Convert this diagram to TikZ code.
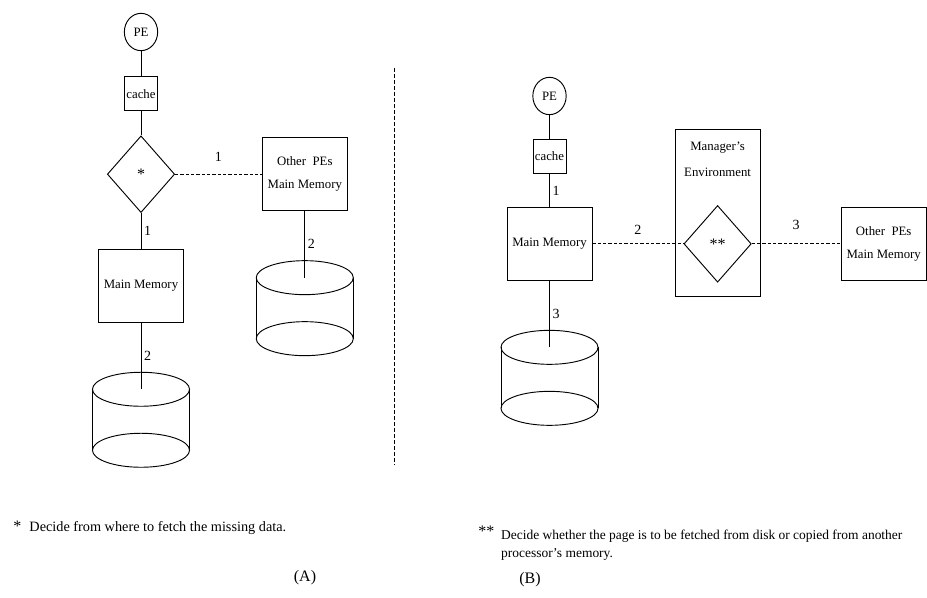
\documentclass[tikz,border=0pt]{standalone}
\usepackage{fontspec}
\setmainfont{Liberation Serif}
\usetikzlibrary{shapes.geometric, positioning}

\begin{document}
\begin{tikzpicture}[
  x=0.75pt, y=-0.75pt, line width=0.7pt,
  every node/.style={font=\fontsize{9.6}{11}\selectfont},
  pe/.style={ellipse, draw, inner sep=0pt, minimum width=25pt, minimum height=28pt},
  cachebox/.style={rectangle, draw, inner sep=0pt, minimum width=24.75pt,
                   minimum height=25.5pt},
  memory/.style={rectangle, draw, align=center, minimum width=63.75pt,
                 minimum height=54.5pt},
  choice/.style={diamond, draw, inner sep=0pt, minimum width=50.5pt,
                 minimum height=57.5pt, font=\fontsize{12}{12}\selectfont},
  link/.style={dash pattern=on 2.5pt off 1.5pt},
  num/.style={font=\fontsize{10.5}{12}\selectfont, inner sep=2pt},
  note/.style={font=\fontsize{10.7}{13}\selectfont, anchor=base west, inner sep=0pt},
  disk/.pic={
    \draw (0pt,0pt) ellipse [x radius=36.4pt, y radius=12.75pt];
    \draw (0pt,-45.75pt) ellipse [x radius=36.4pt, y radius=12.75pt];
    \draw (-36.4pt,0pt) -- (-36.4pt,-45.75pt) (36.4pt,0pt) -- (36.4pt,-45.75pt);
    \coordinate (-top) at (0pt,0pt);
  }
]
\useasboundingbox (0,0) rectangle (927,598);

% (A): the PE decides where the data comes from
\node[pe] (peA) at (141,32) {PE};
\node[cachebox, below=19pt of peA] (cacheA) {cache};
\node[choice, below=18pt of cacheA] (choiceA) {*};
\node[memory, below=27pt of choiceA] (memA) {Main Memory};
\node[memory, right=65pt of choiceA] (otherA) {Other\ \ PEs\\[6pt]Main Memory};
\pic (diskA) at ([yshift=-50pt]memA.south) {disk};
\pic (diskO) at ([yshift=-50pt]otherA.south) {disk};

\draw (peA) -- (cacheA);
\draw (cacheA) -- (choiceA);
\draw (choiceA) -- node[num, right] {1} (memA);
\draw[link] (choiceA) -- node[num, above=7pt] {1} (otherA);
\draw (memA) -- node[num, right] {2} (diskA-top);
\draw (otherA) -- node[num, right] {2} (diskO-top);

% divider
\draw[dash pattern=on 3pt off 1.5pt] (394,68) -- (394,465);

% (B): the manager decides
\node[pe] (peB) at (549.5,96) {PE};
\node[cachebox, below=18pt of peB] (cacheB) {cache};
\node[memory, below=24.75pt of cacheB] (memB) {Main Memory};
\node[choice, right=68.25pt of memB] (choiceB) {**};
\node[memory, right=66.75pt of choiceB] (otherB) {Other\ \ PEs\\[6pt]Main Memory};
\node[memory, minimum height=125.25pt] (mgr) at ([yshift=22.9pt]choiceB.center) {};
\node[align=center, below=6pt of mgr.north] (mgrtxt) {Manager's\\[8pt]Environment};
\pic (diskB) at ([yshift=-50pt]memB.south) {disk};

\draw (peB) -- (cacheB);
\draw (cacheB) -- node[num, right] {1} (memB);
\draw[link] (memB) -- node[num, above=5pt] {2} (choiceB);
\draw[link] (choiceB) -- node[num, above=8pt] {3} (otherB);
\draw (memB) -- node[num, right] {3} (diskB-top);

% footnotes and captions
\node[note] (noteA) at (13,531)
  {{\fontsize{12}{12}\selectfont*}\hspace{6pt}Decide from where to fetch the missing data.};
\node[note, font=\fontsize{10.1}{13}\selectfont] (noteB) at (478,539)
  {\raisebox{2pt}{\fontsize{12}{12}\selectfont**}\hspace{5pt}%
   \begin{tabular}[t]{@{}l@{}}Decide whether the page is to be fetched from disk or copied from\ another\\[0.5pt]
   processor's memory.\end{tabular}};
\node[font=\fontsize{12}{14}\selectfont] (capA) at (305,578) {(A)};
\node[font=\fontsize{12}{14}\selectfont] (capB) at (530,580) {(B)};
\end{tikzpicture}
\end{document}
